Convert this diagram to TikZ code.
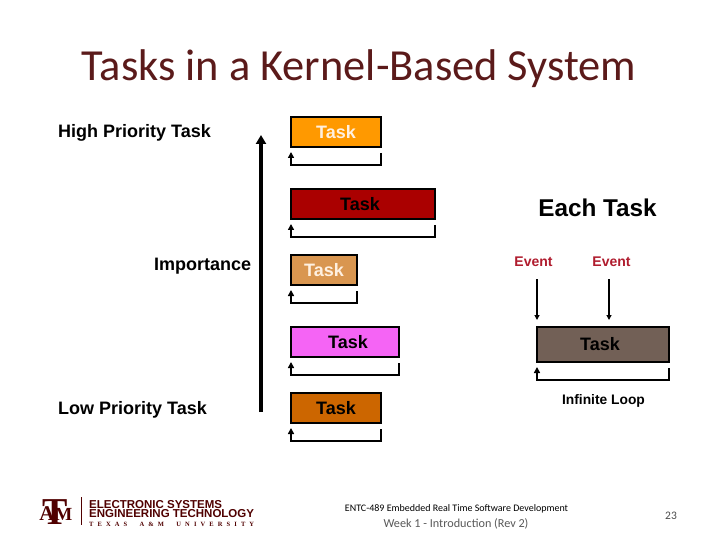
\documentclass[tikz,border=0pt]{standalone}
\usepackage{fontspec}
\setmainfont{Liberation Sans}
\newfontfamily\carl{Carlito}
\newfontfamily\lserif{Liberation Serif}
\usetikzlibrary{arrows.meta}
\definecolor{maroon}{HTML}{500000}
\definecolor{titlecol}{HTML}{5B1A1A}
\definecolor{eventred}{HTML}{B01C2E}
\tikzset{
 taskbox/.style={draw=black,line width=1.6pt,anchor=north west,inner sep=0pt,outer sep=0pt,font=\bfseries\fontsize{18}{20}\selectfont,text=#1},
 taskbox/.default=black,
 lbl/.style={anchor=base west,inner sep=0pt,font=\bfseries\fontsize{18}{20}\selectfont},
 looparrow/.style={line width=1.6pt,-{Triangle[length=6pt,width=6pt]}},
 evarrow/.style={line width=1.2pt,-{Triangle[length=5pt,width=5pt]}},
 evlabel/.style={anchor=base,inner sep=0pt,text=eventred,font=\bfseries\fontsize{14}{16}\selectfont},
 foot/.style={anchor=base,inner sep=0pt,font=\carl},
 logotext/.style={anchor=base west,inner sep=0pt,text=maroon,font=\bfseries\fontsize{11.5}{12}\selectfont}
}
\begin{document}
\begin{tikzpicture}[x=1pt,y=-1pt]
\useasboundingbox[fill=white] (0,0) rectangle (720,540);
\node[anchor=base,inner sep=0pt,text=titlecol,font=\carl\fontsize{44.4}{48}\selectfont] (title) at (359,81) {Tasks in a Kernel-Based System};
\node[lbl] (hi) at (58,138) {High Priority Task};
\node[lbl] (imp) at (154,270) {Importance};
\node[lbl] (lo) at (58,414) {Low Priority Task};
\coordinate (impbot) at (261,412);
\coordinate (imptop) at (261,135);
\draw[line width=3.2pt,-{Triangle[length=9pt,width=10pt]}] (impbot) -- (imptop);
% tasks
\node[taskbox={white!88!orange},fill={rgb,255:red,255;green,153;blue,0},minimum width=90pt,minimum height=30pt] (t1) at (291,117) {Task};
\node[taskbox=black,fill={rgb,255:red,170;green,0;blue,0},minimum width=144pt,minimum height=30pt] (t2) at (291,189) {\hspace*{-6pt}Task};
\node[taskbox={white!88!orange},fill={rgb,255:red,217;green,150;blue,80},minimum width=66pt,minimum height=30pt] (t3) at (291,255) {Task};
\node[taskbox=black,fill={rgb,255:red,245;green,100;blue,245},minimum width=108pt,minimum height=30pt] (t4) at (291,327) {\hspace*{6pt}Task};
\node[taskbox=black,fill={rgb,255:red,204;green,102;blue,0},minimum width=90pt,minimum height=30pt] (t5) at (291,393) {Task};
\foreach \t in {t1,t2,t3,t4,t5}{
 \draw[looparrow] ([yshift=-6pt]\t.south east) -- ++(0,12) -| ([yshift=-5pt]\t.south west);
}
% right side
\node[anchor=base,inner sep=0pt,font=\bfseries\fontsize{24.3}{26}\selectfont] (each) at (597.5,216) {Each Task};
\node[evlabel] (e1) at (533.5,266) {Event};
\node[evlabel] (e2) at (611.5,266) {Event};
\node[taskbox=black,fill={rgb,255:red,114;green,96;blue,86},minimum width=132pt,minimum height=35pt] (t6) at (537,327) {\hspace*{-6pt}Task};
\coordinate (a1) at (537,279);
\coordinate (a2) at (609,279);
\draw[evarrow] (a1) -- ([yshift=7pt]a1 |- t6.north);
\draw[evarrow] (a2) -- ([yshift=7pt]a2 |- t6.north);
\draw[looparrow] ([yshift=-6pt]t6.south east) -- ++(0,12) -| ([yshift=-5pt]t6.south west);
\node[anchor=base,inner sep=0pt,font=\bfseries\fontsize{13.8}{15}\selectfont] (inf) at (603.5,404) {Infinite Loop};
% footer
\node[foot,font=\carl\fontsize{10}{11}\selectfont] (course) at (456.5,511) {ENTC-489 Embedded Real Time Software Development};
\node[foot,text=black!65,font=\carl\fontsize{12.2}{14}\selectfont] (week) at (456,527) {Week 1 - Introduction (Rev 2)};
\node[foot,text=black!70,font=\carl\fontsize{11.5}{13}\selectfont] (page) at (671,519) {23};
% logo
\node[anchor=base,inner sep=0pt,text=maroon,font=\lserif\bfseries\fontsize{38}{38}\selectfont] (tt) at (55,524) {T};
\node[anchor=base,inner sep=0pt,text=maroon,font=\lserif\bfseries\fontsize{21}{22}\selectfont] (aa) at (47,520) {A};
\node[anchor=base,inner sep=0pt,text=maroon,font=\lserif\bfseries\fontsize{18.5}{20}\selectfont] (mm) at (63.5,520) {M};
\coordinate (barA) at (81,497);
\coordinate (barB) at (81,525);
\draw[maroon,line width=0.9pt] (barA) -- (barB);
\node[logotext] (l1) at (89,508.6) {ELECTRONIC SYSTEMS};
\node[logotext] (l2) at (89,517.2) {ENGINEERING TECHNOLOGY};
\node[anchor=base west,inner sep=0pt,text=maroon,font=\lserif\bfseries\fontsize{6.5}{7}\selectfont] (l3) at (89,526) {\hbox to 165pt{T\hfill E\hfill X\hfill A\hfill S\hfill\hfill\hfill A\hfill\&\hfill M\hfill\hfill\hfill U\hfill N\hfill I\hfill V\hfill E\hfill R\hfill S\hfill I\hfill T\hfill Y}};
\end{tikzpicture}
\end{document}
